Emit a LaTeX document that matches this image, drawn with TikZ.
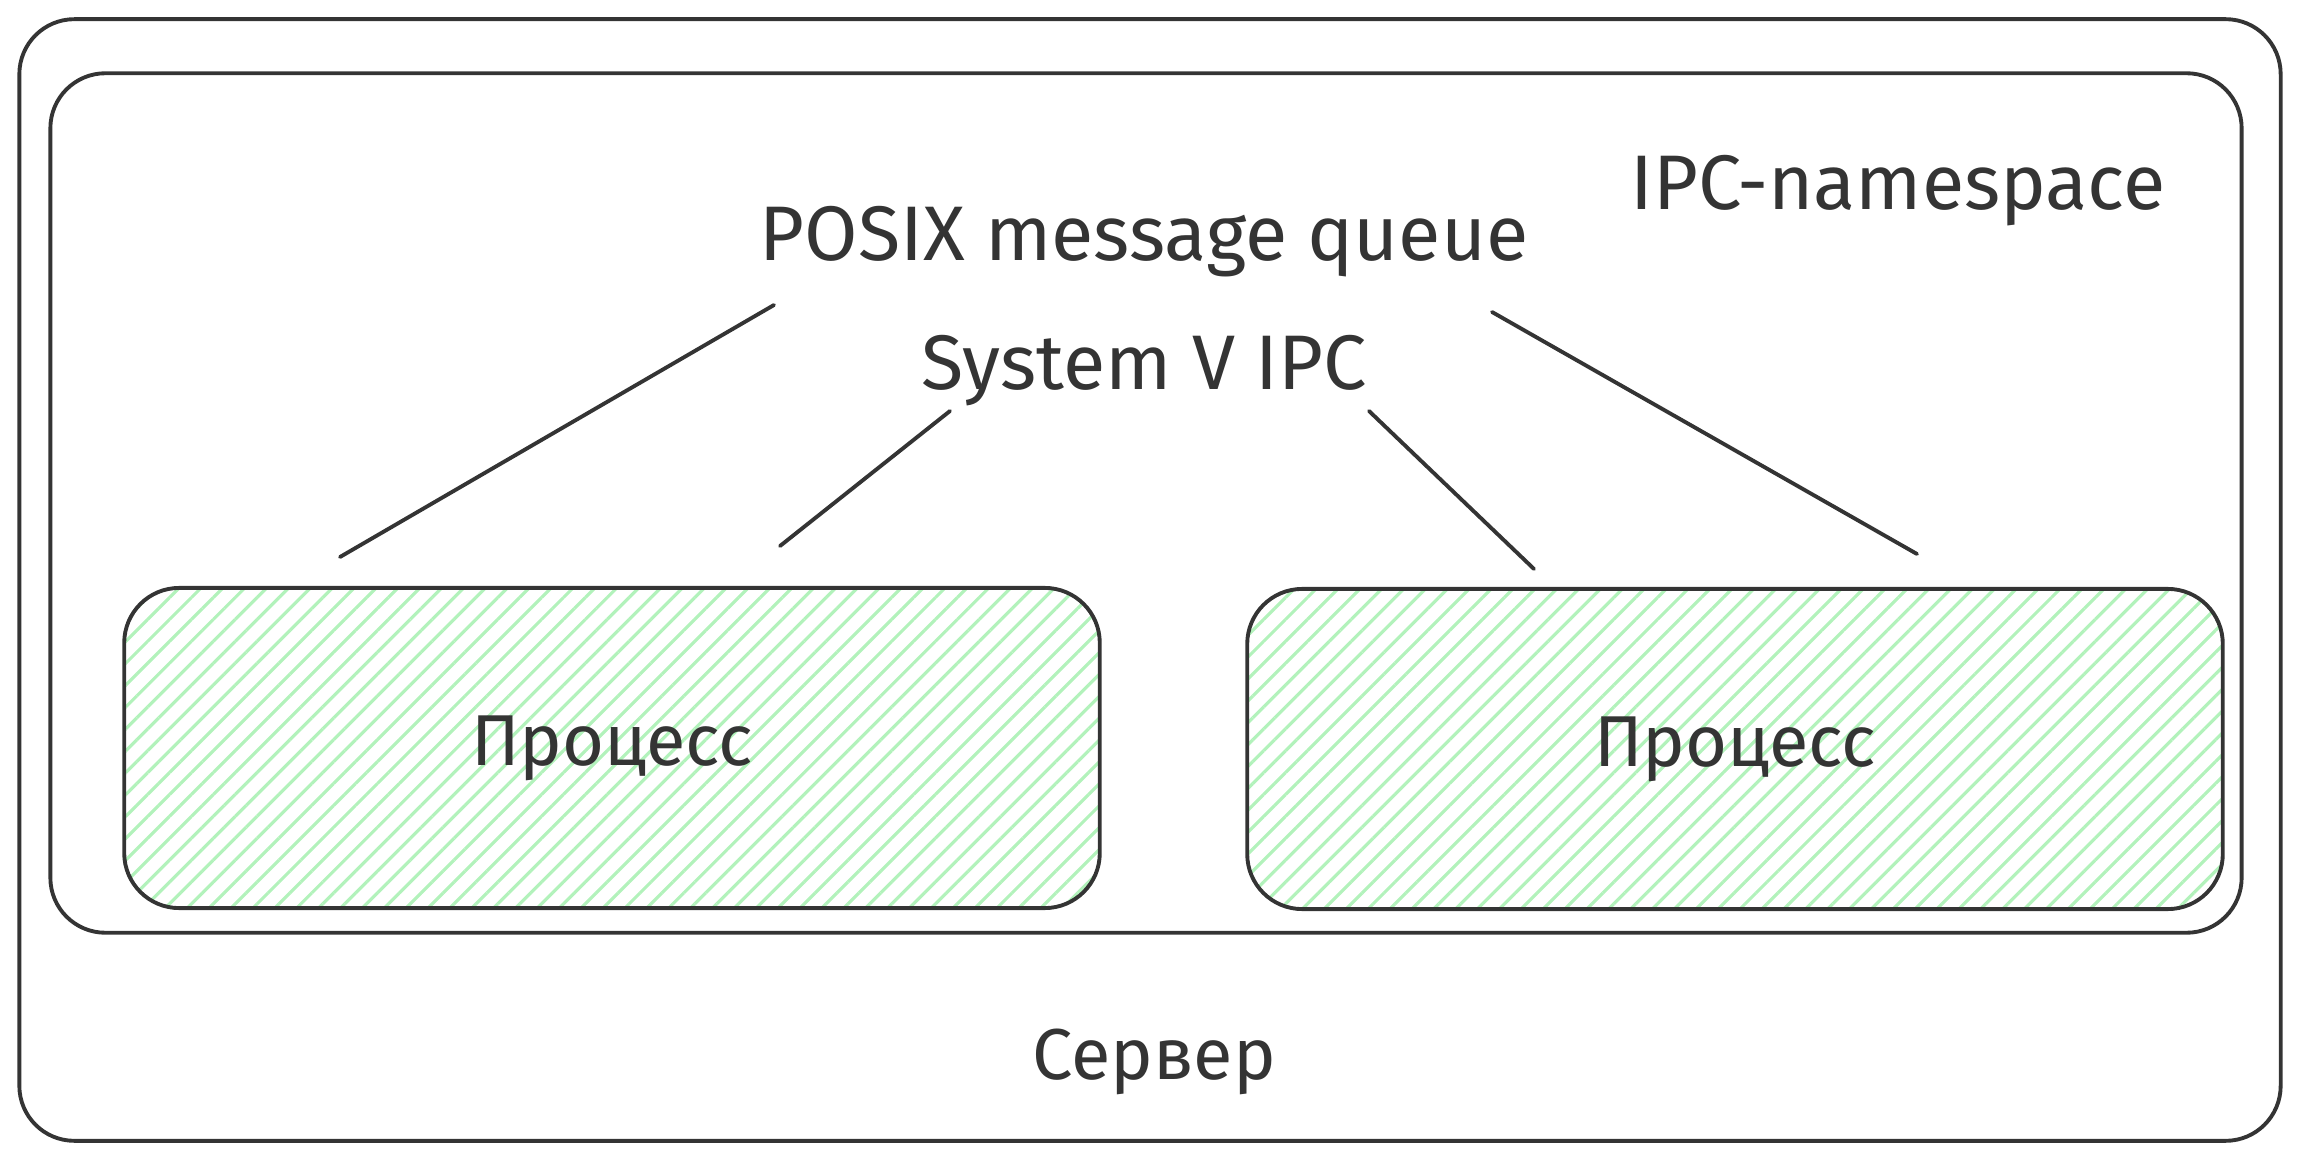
\documentclass[tikz,border=0pt]{standalone}
\usepackage{fontspec}
\setmainfont{Fira Sans}
\usetikzlibrary{positioning,patterns.meta}
\definecolor{ink}{HTML}{343434}
\definecolor{hatch}{HTML}{B2F2BB}

\begin{document}
\begin{tikzpicture}[x=0.01cm,y=-0.01cm,
    frame/.style={draw=ink,line width=1.1pt,rounded corners=0.55cm},
    procbox/.style={frame,minimum width=9.75cm,minimum height=3.2cm,
      pattern={Lines[angle=45,distance=4.4pt,line width=0.9pt]},pattern color=hatch},
    txt/.style={text=ink,font=\fontsize{22}{26}\selectfont,inner sep=0pt},
    ctxt/.style={txt,font=\fontsize{20.5}{24}\selectfont},
    link/.style={draw=ink,line width=1.1pt,line cap=round}]
  \useasboundingbox (0,0) rectangle (2300,1161);
  % boxes
  \node (server) [frame,minimum width=22.6cm,minimum height=11.21cm] at (1150,580) {};
  \node (ns) [frame,minimum width=21.9cm,minimum height=8.59cm] at (1146,503) {};
  \node (procL) [procbox,ctxt] at (612,748) {Процесс};
  \node (procR) [procbox,ctxt] at (1735,749) {Процесс};
  % labels
  \node (srvlabel) [ctxt] at (1154,1062) {Сервер};
  \node (nslabel) [txt] at (1898,191) {IPC-namespace};
  \node (posix) [txt] at (1144,242) {POSIX message queue};
  \node (sysv) [txt,below=0.56cm of posix] {System V IPC};
  % connector ends
  \coordinate (a1) at (774,305);
  \coordinate (a2) at (340,557);
  \coordinate (b1) at (950,411);
  \coordinate (b2) at (780,546);
  \coordinate (c1) at (1369,411);
  \coordinate (c2) at (1534,569);
  \coordinate (d1) at (1492,312);
  \coordinate (d2) at (1917,554);
  \draw[link] (a1) -- (a2);
  \draw[link] (b1) -- (b2);
  \draw[link] (c1) -- (c2);
  \draw[link] (d1) -- (d2);
\end{tikzpicture}
\end{document}
